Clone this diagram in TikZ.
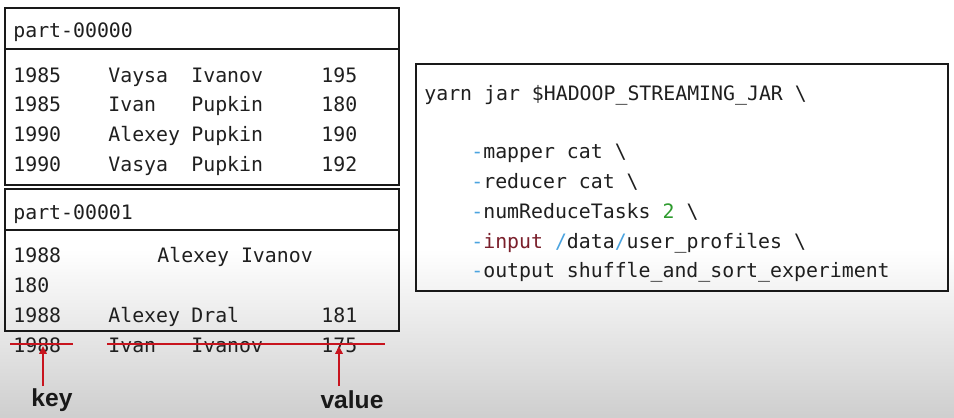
\documentclass[tikz,border=0pt]{standalone}
\usepackage{fontspec}
\setmonofont{DejaVu Sans Mono}
\setsansfont{Liberation Sans}
\usetikzlibrary{arrows.meta}
\definecolor{optblue}{HTML}{4AA3DF}
\definecolor{optred}{HTML}{7A1F2B}
\definecolor{numgreen}{HTML}{2E9B2E}
\definecolor{penred}{HTML}{C8141E}

\begin{document}
\begin{tikzpicture}[x=0.02cm,y=-0.02cm,>={Triangle[length=4.5pt,width=4.2pt]},
    cell/.style={anchor=base west,inner sep=0pt,text=black!88,font=\fontsize{11.3}{13}\selectfont\ttfamily},
    frame/.style={draw=black!90,line width=1.1pt},
    strike/.style={draw=penred,line width=1.1pt},
    pointer/.style={->,draw=penred,line width=1.1pt},
    tag/.style={inner sep=0pt,text=black!90,font=\fontsize{14}{16}\selectfont\sffamily\bfseries}]
    \useasboundingbox (0,0) rectangle (954,417);
    \fill[white] (0,0) rectangle (954,250);
    \shade[top color=white,bottom color=black!19] (0,249) rectangle (954,417);

    % part-00000
    \draw[frame] (5,8) rectangle (399,49);
    \draw[frame] (5,49) rectangle (399,185);
    \node[cell] (head0) at (13,37) {part-00000};
    \foreach \i/\yy/\a/\b/\c/\d in {1/75/1985/Vaysa/Ivanov/195,2/104/1985/Ivan/Pupkin/180,
        3/134/1990/Alexey/Pupkin/190,4/164/1990/Vasya/Pupkin/192}{
        \node[cell] (yr\i) at (13,\yy+7) {\a};
        \node[cell] (fn\i) at (108,\yy+7) {\b};
        \node[cell] (ln\i) at (191,\yy+7) {\c};
        \node[cell] (val\i) at (321,\yy+7) {\d};
    }

    % part-00001
    \draw[frame] (5,189) rectangle (399,230);
    \draw[frame] (5,230) rectangle (399,331);
    \node[cell] (head1) at (13,219) {part-00001};
    \node[cell] (yr5) at (13,262) {1988};
    \node[cell] (fn5) at (157,262) {Alexey Ivanov};
    \node[cell] (val5) at (13,292) {180};
    \node[cell] (yr6) at (13,322) {1988};
    \node[cell] (fn6) at (108,322) {Alexey};
    \node[cell] (ln6) at (191,322) {Dral};
    \node[cell] (val6) at (321,322) {181};

    % crossed out record
    \node[cell] (yr7) at (13,352) {1988};
    \node[cell] (fn7) at (108,352) {Ivan};
    \node[cell] (ln7) at (191,352) {Ivanov};
    \node[cell] (val7) at (321,352) {175};
    \draw[strike] (10,344) -- (73,344);
    \draw[strike] (107,344) -- (385,344);

    \node[tag] (key) at (52,400) {key};
    \node[tag] (value) at (352,400) {value};
    \coordinate (keytip) at (43,346);
    \coordinate (valuetip) at (339,346);
    \draw[pointer] (43,386) -- (keytip);
    \draw[pointer] (339,386) -- (valuetip);

    % command
    \draw[frame] (416,64) rectangle (948,291);
    \node[cell] (cmd0) at (424,100) {yarn jar \$HADOOP\_STREAMING\_JAR \textbackslash};
    \node[cell] (cmd1) at (471,158) {\textcolor{optblue}{-}mapper cat \textbackslash};
    \node[cell] (cmd2) at (471,188) {\textcolor{optblue}{-}reducer cat \textbackslash};
    \node[cell] (cmd3) at (471,218) {\textcolor{optblue}{-}numReduceTasks \textcolor{numgreen}{2} \textbackslash};
    \node[cell] (cmd4) at (471,248) {\textcolor{optblue}{-}\textcolor{optred}{input} \textcolor{optblue}{/}data\textcolor{optblue}{/}user\_profiles \textbackslash};
    \node[cell] (cmd5) at (471,277) {\textcolor{optblue}{-}output shuffle\_and\_sort\_experiment};
\end{tikzpicture}
\end{document}
